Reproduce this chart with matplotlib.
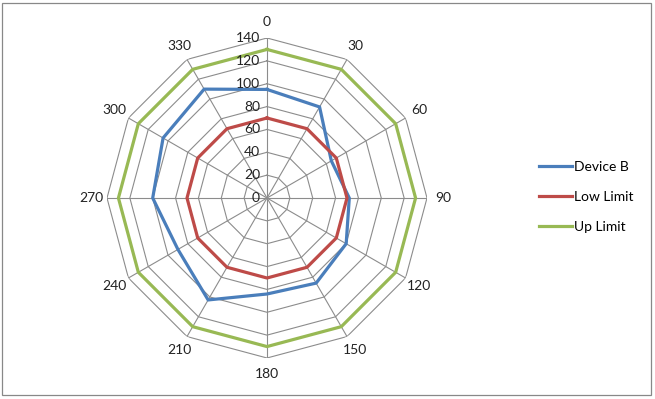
import numpy as np
import matplotlib
matplotlib.use("Agg")
import matplotlib.pyplot as plt
from matplotlib.patches import Rectangle

# datos del radar
categorias = [0, 30, 60, 90, 120, 150, 180, 210, 240, 270, 300, 330]
device_b = [95, 92, 65, 72, 80, 86, 84, 103, 90, 100, 105, 110]
low_limit = [70, 70, 70, 70, 70, 70, 70, 70, 70, 70, 70, 70]
up_limit = [130, 130, 130, 130, 130, 130, 130, 130, 130, 130, 130, 130]
etiquetas_r = [0, 20, 40, 60, 80, 100, 120, 140]

plt.rcParams['font.family'] = ['Lato', 'DejaVu Sans']

fig = plt.figure(figsize=(6.55, 3.99), dpi=100)
ax = fig.add_axes([107 / 655, 41 / 399, 320 / 655, 320 / 399], projection='polar')
ax.set_theta_zero_location('N')
ax.set_theta_direction(-1)
ax.set_ylim(0, 140)
ax.grid(False)
ax.spines['polar'].set_visible(False)
ax.set_xticks([])
ax.set_yticks([])
ax.patch.set_alpha(0)

theta = np.deg2rad(categorias)
theta_c = np.append(theta, theta[0])

# rejilla poligonal
gris = '#8c8c8c'
for r in etiquetas_r[1:]:
    ax.plot(theta_c, [r] * len(theta_c), color=gris, lw=0.8, zorder=1)
for t in theta:
    ax.plot([t, t], [0, 140], color=gris, lw=0.8, zorder=1)

series = [
    ("Device B", device_b, '#4a7ebb'),
    ("Low Limit", low_limit, '#be4b48'),
    ("Up Limit", up_limit, '#98b954'),
]
for nombre, valores, color in series:
    v = np.append(valores, valores[0])
    ax.plot(theta_c, v, color=color, lw=2.3, label=nombre, zorder=3)

# etiquetas de categorias
for c, t in zip(categorias, theta):
    ax.text(t, 154, str(c), ha='center', va='center', fontsize=10, color='#222222')

# etiquetas radiales
for r in etiquetas_r:
    ax.annotate(str(r), xy=(0, r), xytext=(-5, 0), textcoords='offset points',
                ha='right', va='center', fontsize=10, color='#222222')

fig.legend(loc='center left', bbox_to_anchor=(526 / 655, 1 - 197 / 399),
           frameon=False, fontsize=10, handlelength=2.4, handletextpad=0.15,
           labelspacing=1.3)

fig.patches.append(Rectangle((2 / 655, 4 / 399), 649 / 655, 392 / 399,
                             transform=fig.transFigure, fill=False,
                             edgecolor='#888888', lw=0.9))

fig.savefig("out.png", dpi=100)
